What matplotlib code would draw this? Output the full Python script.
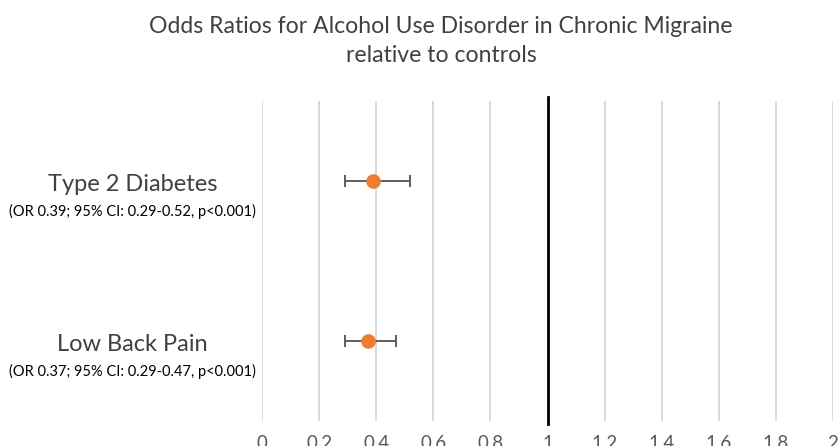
import matplotlib.pyplot as plt
from matplotlib.transforms import blended_transform_factory

plt.rcParams['font.family'] = ['Lato', 'DejaVu Sans']

# odds ratios with 95% CI
conditions = ['Type 2 Diabetes', 'Low Back Pain']
stats = ['(OR 0.39; 95% CI: 0.29-0.52, p<0.001)',
         '(OR 0.37; 95% CI: 0.29-0.47, p<0.001)']
odds = [0.39, 0.37]
ci_low = [0.29, 0.29]
ci_high = [0.52, 0.47]
ypos = [3, 1]
xticks = [0, 0.2, 0.4, 0.6, 0.8, 1, 1.2, 1.4, 1.6, 1.8, 2]
xlabels = ['0', '0.2', '0.4', '0.6', '0.8', '1', '1.2', '1.4', '1.6', '1.8', '2']

fig = plt.figure(figsize=(8.4, 4.46), dpi=100)
ax = fig.add_axes([0.3119, 0.0561, 0.6798, 0.7175])

err_lo = [o - l for o, l in zip(odds, ci_low)]
err_hi = [h - o for o, h in zip(odds, ci_high)]
ax.errorbar(odds, ypos, xerr=[err_lo, err_hi], fmt='none', ecolor='#5f5f5f',
            elinewidth=1.4, capsize=4.5, capthick=1.4, zorder=3)
ax.plot(odds, ypos, 'o', color='#ED7D31', markersize=9.5, zorder=4)

# reference line at OR = 1
ax.plot([1, 1], [-0.04, 4.05], color='black', lw=2, clip_on=False, zorder=2)

ax.set_xlim(0, 2)
ax.set_ylim(0, 4)
ax.set_xticks(xticks)
ax.set_xticklabels(xlabels)
ax.set_yticks([])
ax.grid(axis='x', color='#d9d9d9', lw=1.4)
ax.set_axisbelow(True)
ax.tick_params(axis='x', length=0, pad=10, labelsize=13.5, labelcolor='#595959')
for s in ax.spines.values():
    s.set_visible(False)

trans = blended_transform_factory(fig.transFigure, ax.transData)
for name, st, y in zip(conditions, stats, ypos):
    ax.text(0.158, y - 0.04, name, transform=trans, ha='center', va='center',
            fontsize=17, color='#404040')
    ax.text(0.158, y - 0.38, st, transform=trans, ha='center', va='center',
            fontsize=10.5, color='black')

fig.text(0.525, 0.908, 'Odds Ratios for Alcohol Use Disorder in Chronic Migraine\nrelative to controls',
         ha='center', va='center', fontsize=16.6, color='#404040', linespacing=1.5)

fig.savefig('out.png', dpi=100)
